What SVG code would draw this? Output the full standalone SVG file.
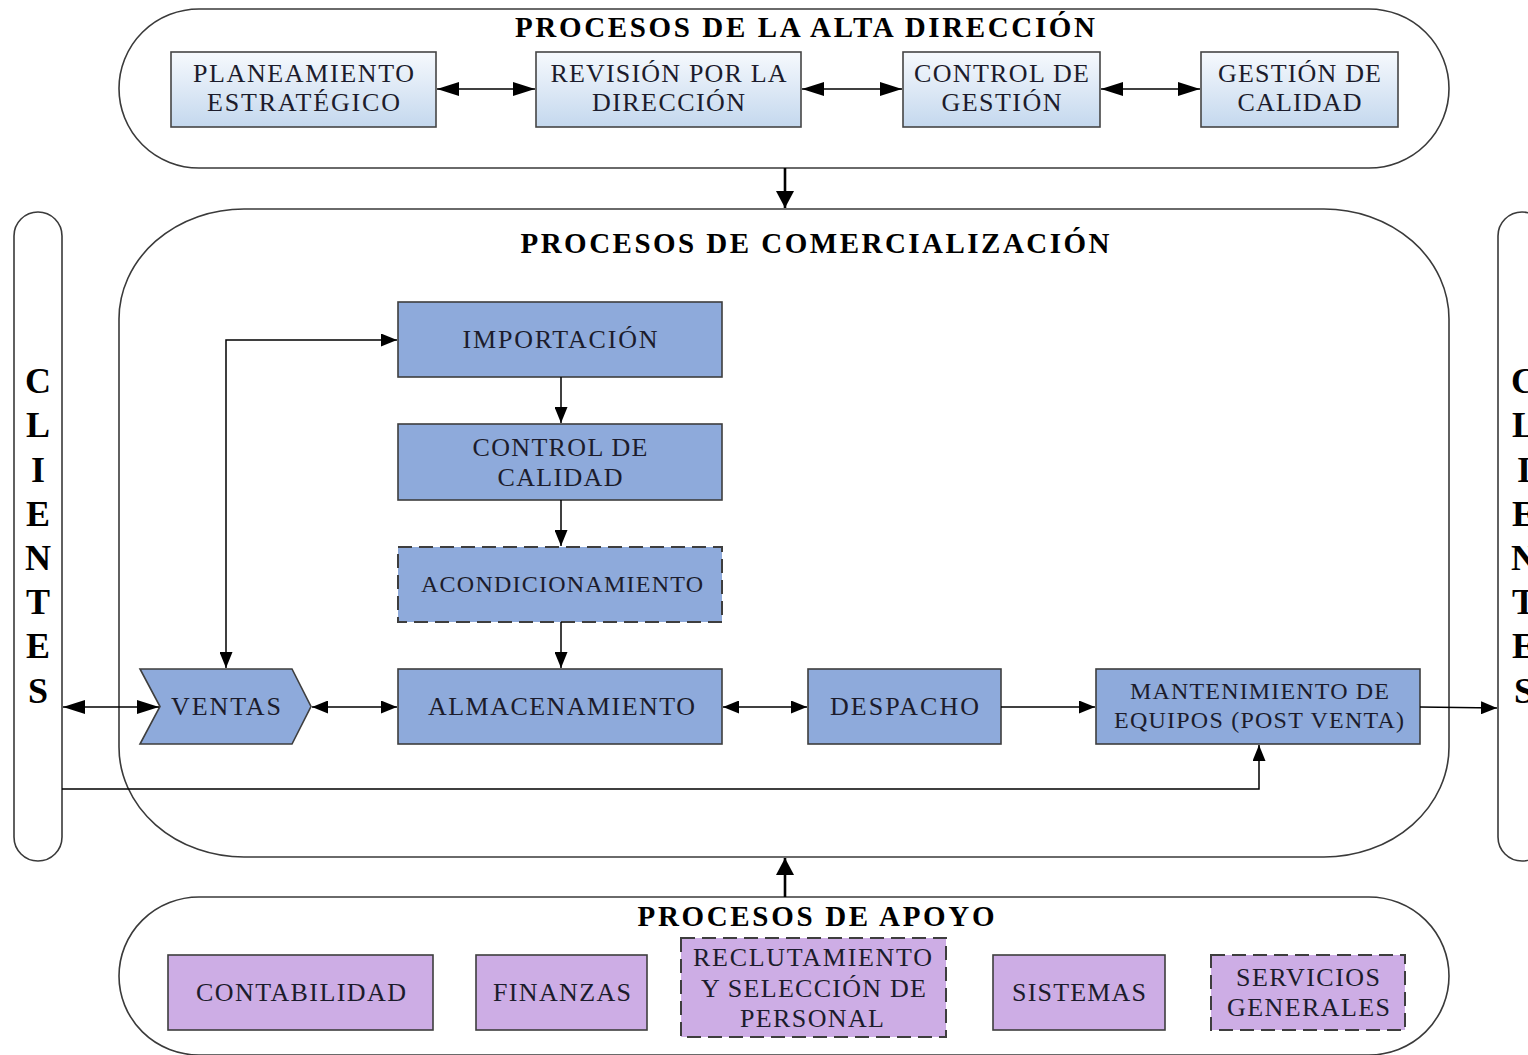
<svg xmlns="http://www.w3.org/2000/svg" width="1528" height="1055" viewBox="0 0 1528 1055">
  <style>
    .container { fill: #ffffff; stroke: #3a3a3a; stroke-width: 1.6; }
    .title { font-family: "Liberation Serif", "Times New Roman", serif; font-weight: bold; font-size: 29px; fill: #000000; text-anchor: middle; }
    .client { font-family: "Liberation Serif", "Times New Roman", serif; font-weight: bold; font-size: 36px; fill: #000000; text-anchor: middle; }
    .lbl { font-family: "Liberation Serif", "Times New Roman", serif; font-size: 26px; fill: #1c1c2c; text-anchor: middle; }
    .sm { font-size: 24px; }
    .top-box { fill: url(#topGrad); stroke: #454545; stroke-width: 1.6; }
    .blue-box { fill: #8eaadb; stroke: #3e3e3e; stroke-width: 1.6; }
    .purple-box { fill: #cdade5; stroke: #3e3e3e; stroke-width: 1.6; }
    .dashed { stroke-dasharray: 14 7; stroke-width: 2; }
    .conn { fill: none; stroke: #000000; stroke-width: 1.5; }
    .conn-thick { fill: none; stroke: #000000; stroke-width: 2.6; }
  </style>
  <defs>
    <linearGradient id="topGrad" x1="0" y1="0" x2="0" y2="1">
      <stop offset="0" stop-color="#f6f9fd"/>
      <stop offset="1" stop-color="#c4d8ee"/>
    </linearGradient>
    <marker id="arrowBig" viewBox="0 0 10 10" refX="10" refY="5" markerUnits="userSpaceOnUse" markerWidth="22" markerHeight="14" orient="auto-start-reverse" preserveAspectRatio="none">
      <path d="M0,0 L10,5 L0,10 z" fill="#000000"/>
    </marker>
    <marker id="arrow" viewBox="0 0 10 10" refX="10" refY="5" markerUnits="userSpaceOnUse" markerWidth="16" markerHeight="13" orient="auto-start-reverse" preserveAspectRatio="none">
      <path d="M0,0 L10,5 L0,10 z" fill="#000000"/>
    </marker>
    <marker id="arrowThick" viewBox="0 0 10 10" refX="10" refY="5" markerUnits="userSpaceOnUse" markerWidth="17" markerHeight="18" orient="auto" preserveAspectRatio="none">
      <path d="M0,0 L10,5 L0,10 z" fill="#000000"/>
    </marker>
  </defs>

  <!-- Process areas -->
  <g id="alta-direccion">
    <rect class="container" x="119" y="9" width="1330" height="159" rx="80" ry="80"/>
    <text class="title" x="805" y="37" textLength="580" lengthAdjust="spacing">PROCESOS DE LA ALTA DIRECCIÓN</text>
  </g>
  <g id="comercializacion">
    <rect class="container" x="119" y="209" width="1330" height="648" rx="125" ry="110"/>
    <text class="title" x="815" y="253" textLength="589" lengthAdjust="spacing">PROCESOS DE COMERCIALIZACIÓN</text>
  </g>
  <g id="apoyo">
    <rect class="container" x="119" y="897" width="1330" height="158" rx="80" ry="80"/>
    <text class="title" x="816" y="926" textLength="357" lengthAdjust="spacing">PROCESOS DE APOYO</text>
  </g>

  <!-- Customers, left and right -->
  <g id="clientes-izq">
    <rect class="container" x="14" y="212" width="48" height="649" rx="24" ry="24"/>
    <text class="client" x="38" y="393">C</text>
    <text class="client" x="38" y="437">L</text>
    <text class="client" x="38" y="482">I</text>
    <text class="client" x="38" y="526">E</text>
    <text class="client" x="38" y="570">N</text>
    <text class="client" x="38" y="614">T</text>
    <text class="client" x="38" y="658">E</text>
    <text class="client" x="38" y="703">S</text>
  </g>
  <g id="clientes-der">
    <rect class="container" x="1498" y="212" width="48" height="649" rx="24" ry="24"/>
    <text class="client" x="1524" y="393">C</text>
    <text class="client" x="1524" y="437">L</text>
    <text class="client" x="1524" y="482">I</text>
    <text class="client" x="1524" y="526">E</text>
    <text class="client" x="1524" y="570">N</text>
    <text class="client" x="1524" y="614">T</text>
    <text class="client" x="1524" y="658">E</text>
    <text class="client" x="1524" y="703">S</text>
  </g>

  <!-- Top management processes -->
  <g id="planeamiento">
    <rect class="top-box" x="171" y="52" width="265" height="75"/>
    <text class="lbl" x="303.5" y="82" textLength="221" lengthAdjust="spacing">PLANEAMIENTO</text>
    <text class="lbl" x="303.5" y="111" textLength="193" lengthAdjust="spacing">ESTRATÉGICO</text>
  </g>
  <g id="revision">
    <rect class="top-box" x="536" y="52" width="265" height="75"/>
    <text class="lbl" x="668.5" y="82" textLength="236" lengthAdjust="spacing">REVISIÓN POR LA</text>
    <text class="lbl" x="668.5" y="111" textLength="153" lengthAdjust="spacing">DIRECCIÓN</text>
  </g>
  <g id="control-gestion">
    <rect class="top-box" x="903" y="52" width="197" height="75"/>
    <text class="lbl" x="1001.5" y="82" textLength="175" lengthAdjust="spacing">CONTROL DE</text>
    <text class="lbl" x="1001.5" y="111" textLength="120" lengthAdjust="spacing">GESTIÓN</text>
  </g>
  <g id="gestion-calidad">
    <rect class="top-box" x="1201" y="52" width="197" height="75"/>
    <text class="lbl" x="1299.5" y="82" textLength="163" lengthAdjust="spacing">GESTIÓN DE</text>
    <text class="lbl" x="1299.5" y="111" textLength="124" lengthAdjust="spacing">CALIDAD</text>
  </g>

  <!-- Commercial processes -->
  <g id="importacion">
    <rect class="blue-box" x="398" y="302" width="324" height="75"/>
    <text class="lbl" x="560" y="348" textLength="195" lengthAdjust="spacing">IMPORTACIÓN</text>
  </g>
  <g id="control-calidad">
    <rect class="blue-box" x="398" y="424" width="324" height="76"/>
    <text class="lbl" x="560" y="456" textLength="175" lengthAdjust="spacing">CONTROL DE</text>
    <text class="lbl" x="560" y="486" textLength="125" lengthAdjust="spacing">CALIDAD</text>
  </g>
  <g id="acondicionamiento">
    <rect class="blue-box dashed" x="398" y="547" width="324" height="75"/>
    <text class="lbl sm" x="562" y="592" textLength="282" lengthAdjust="spacing">ACONDICIONAMIENTO</text>
  </g>
  <g id="almacenamiento">
    <rect class="blue-box" x="398" y="669" width="324" height="75"/>
    <text class="lbl" x="561.5" y="715" textLength="267" lengthAdjust="spacing">ALMACENAMIENTO</text>
  </g>
  <g id="despacho">
    <rect class="blue-box" x="808" y="669" width="193" height="75"/>
    <text class="lbl" x="904.5" y="715" textLength="149" lengthAdjust="spacing">DESPACHO</text>
  </g>
  <g id="mantenimiento">
    <rect class="blue-box" x="1096" y="669" width="324" height="75"/>
    <text class="lbl sm" x="1259.5" y="699" textLength="259" lengthAdjust="spacing">MANTENIMIENTO DE</text>
    <text class="lbl sm" x="1259" y="728" textLength="290" lengthAdjust="spacing">EQUIPOS (POST VENTA)</text>
  </g>
  <g id="ventas">
    <polygon class="blue-box" points="140,669 292,669 311,706.5 292,744 140,744 160,706.5"/>
    <text class="lbl" x="226" y="715" textLength="110" lengthAdjust="spacing">VENTAS</text>
  </g>

  <!-- Support processes -->
  <g id="contabilidad">
    <rect class="purple-box" x="168" y="955" width="265" height="75"/>
    <text class="lbl" x="301" y="1001" textLength="210" lengthAdjust="spacing">CONTABILIDAD</text>
  </g>
  <g id="finanzas">
    <rect class="purple-box" x="476" y="955" width="171" height="75"/>
    <text class="lbl" x="562" y="1001" textLength="138" lengthAdjust="spacing">FINANZAS</text>
  </g>
  <g id="reclutamiento">
    <rect class="purple-box dashed" x="681" y="938" width="265" height="99"/>
    <text class="lbl" x="812.5" y="966" textLength="239" lengthAdjust="spacing">RECLUTAMIENTO</text>
    <text class="lbl" x="813.5" y="997" textLength="225" lengthAdjust="spacing">Y SELECCIÓN DE</text>
    <text class="lbl" x="812" y="1027" textLength="144" lengthAdjust="spacing">PERSONAL</text>
  </g>
  <g id="sistemas">
    <rect class="purple-box" x="993" y="955" width="172" height="75"/>
    <text class="lbl" x="1079" y="1001" textLength="134" lengthAdjust="spacing">SISTEMAS</text>
  </g>
  <g id="servicios">
    <rect class="purple-box dashed" x="1211" y="955" width="194" height="75"/>
    <text class="lbl" x="1308" y="986" textLength="144" lengthAdjust="spacing">SERVICIOS</text>
    <text class="lbl" x="1308.5" y="1016" textLength="163" lengthAdjust="spacing">GENERALES</text>
  </g>

  <!-- Connectors -->
  <g id="connectors">
    <!-- top management chain -->
    <line class="conn" x1="437" y1="89" x2="535" y2="89" marker-start="url(#arrowBig)" marker-end="url(#arrowBig)"/>
    <line class="conn" x1="802" y1="89" x2="902" y2="89" marker-start="url(#arrowBig)" marker-end="url(#arrowBig)"/>
    <line class="conn" x1="1101" y1="89" x2="1200" y2="89" marker-start="url(#arrowBig)" marker-end="url(#arrowBig)"/>
    <!-- between process areas -->
    <line class="conn-thick" x1="785" y1="168" x2="785" y2="208" marker-end="url(#arrowThick)"/>
    <line class="conn-thick" x1="785" y1="897" x2="785" y2="858" marker-end="url(#arrowThick)"/>
    <!-- commercial flow -->
    <line class="conn" x1="561" y1="377" x2="561" y2="423" marker-end="url(#arrow)"/>
    <line class="conn" x1="561" y1="500" x2="561" y2="546" marker-end="url(#arrow)"/>
    <line class="conn" x1="561" y1="622" x2="561" y2="668" marker-end="url(#arrow)"/>
    <polyline class="conn" points="226,668 226,340 397,340" marker-start="url(#arrow)" marker-end="url(#arrow)"/>
    <line class="conn" x1="63" y1="707" x2="159" y2="707" marker-start="url(#arrowBig)" marker-end="url(#arrowBig)"/>
    <line class="conn" x1="312" y1="707" x2="397" y2="707" marker-start="url(#arrow)" marker-end="url(#arrow)"/>
    <line class="conn" x1="723" y1="707" x2="807" y2="707" marker-start="url(#arrow)" marker-end="url(#arrow)"/>
    <line class="conn" x1="1001" y1="707" x2="1095" y2="707" marker-end="url(#arrow)"/>
    <line class="conn" x1="1420" y1="707" x2="1497" y2="708" marker-end="url(#arrow)"/>
    <polyline class="conn" points="62,789 1259,789 1259,745" marker-end="url(#arrow)"/>
  </g>
</svg>
